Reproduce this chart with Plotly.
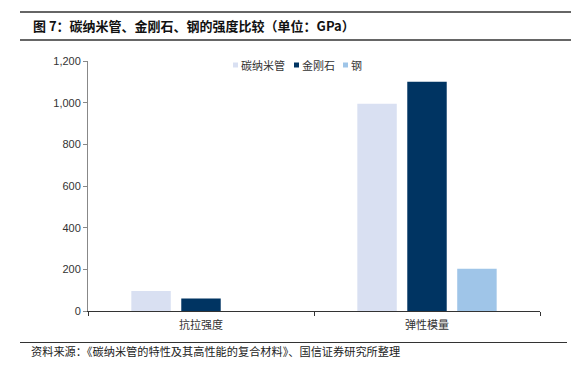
import plotly.graph_objects as go

categories = ["抗拉强度", "弹性模量"]
series_names = ["碳纳米管", "金刚石", "钢"]
cnt_values = [96, 995]
diamond_values = [60, 1100]
steel_values = [0, 203]
colors = ["#D9E0F2", "#003462", "#9FC5E8"]
y_ticks = [0, 200, 400, 600, 800, 1000, 1200]
y_tick_labels = ["0", "200", "400", "600", "800", "1,000", "1,200"]

title_text = "图 7：碳纳米管、金刚石、钢的强度比较（单位：GPa）"
source_text = "资料来源：《碳纳米管的特性及其高性能的复合材料》、国信证券研究所整理"

W, H = 587, 374
L, R, T, B = 88, 47, 61, 63
pw = W - L - R
ph = H - T - B

def px_x(x):
    return (x - L) / pw

def px_y(y):
    return (H - B - y) / ph

fig = go.Figure()
for name, vals, col in zip(series_names, [cnt_values, diamond_values, steel_values], colors):
    fig.add_trace(go.Bar(x=categories, y=vals, name=name, marker=dict(color=col, line=dict(width=0)),
                         showlegend=False))

cjk = "Noto Sans CJK SC"
shapes = []
annotations = []
# title lines
for yy in [12, 40]:
    shapes.append(dict(type="line", xref="paper", yref="paper", x0=px_x(20), x1=px_x(571),
                       y0=px_y(yy), y1=px_y(yy), line=dict(color="#333333", width=1.3)))
shapes.append(dict(type="line", xref="paper", yref="paper", x0=px_x(20), x1=px_x(567),
                   y0=px_y(342.5), y1=px_y(342.5), line=dict(color="#333333", width=1.2)))
annotations.append(dict(text="<b>" + title_text + "</b>", xref="paper", yref="paper",
                        x=px_x(31), y=px_y(25), xanchor="left", yanchor="middle", showarrow=False,
                        font=dict(family=cjk, size=13, color="#111111")))
annotations.append(dict(text=source_text, xref="paper", yref="paper",
                        x=px_x(29), y=px_y(351), xanchor="left", yanchor="middle", showarrow=False,
                        font=dict(family=cjk, size=11.2, color="#222222")))
# legend
leg_marker_x = [233, 294, 343]
for name, col, mx in zip(series_names, colors, leg_marker_x):
    shapes.append(dict(type="rect", xref="paper", yref="paper", x0=px_x(mx), x1=px_x(mx + 5),
                       y0=px_y(67.5), y1=px_y(62.5), fillcolor=col, line=dict(width=0)))
    annotations.append(dict(text=name, xref="paper", yref="paper", x=px_x(mx + 6), y=px_y(65),
                            xanchor="left", yanchor="middle", showarrow=False,
                            font=dict(family=cjk, size=11, color="#333333")))

fig.update_layout(
    width=W, height=H,
    margin=dict(l=L, r=R, t=T, b=B),
    paper_bgcolor="white", plot_bgcolor="white",
    barmode="group", bargap=0.337, bargroupgap=0.21,
    shapes=shapes, annotations=annotations,
    xaxis=dict(showline=True, linecolor="#333333", linewidth=1.2, ticks="outside",
               tickson="boundaries", ticklen=4, tickcolor="#333333", ticklabelstandoff=4,
               tickfont=dict(family=cjk, size=11, color="#333333"), showgrid=False),
    yaxis=dict(range=[0, 1200], tickvals=y_ticks, ticktext=y_tick_labels, showline=True,
               linecolor="#888888", linewidth=1, ticks="outside", ticklen=4, tickcolor="#888888",
               tickfont=dict(family="Liberation Sans", size=11, color="#333333"),
               showgrid=False, zeroline=False),
)
fig.write_html("out.html", config={"displayModeBar": False},
               post_script="document.body.style.margin='0';document.body.style.padding='0';")
